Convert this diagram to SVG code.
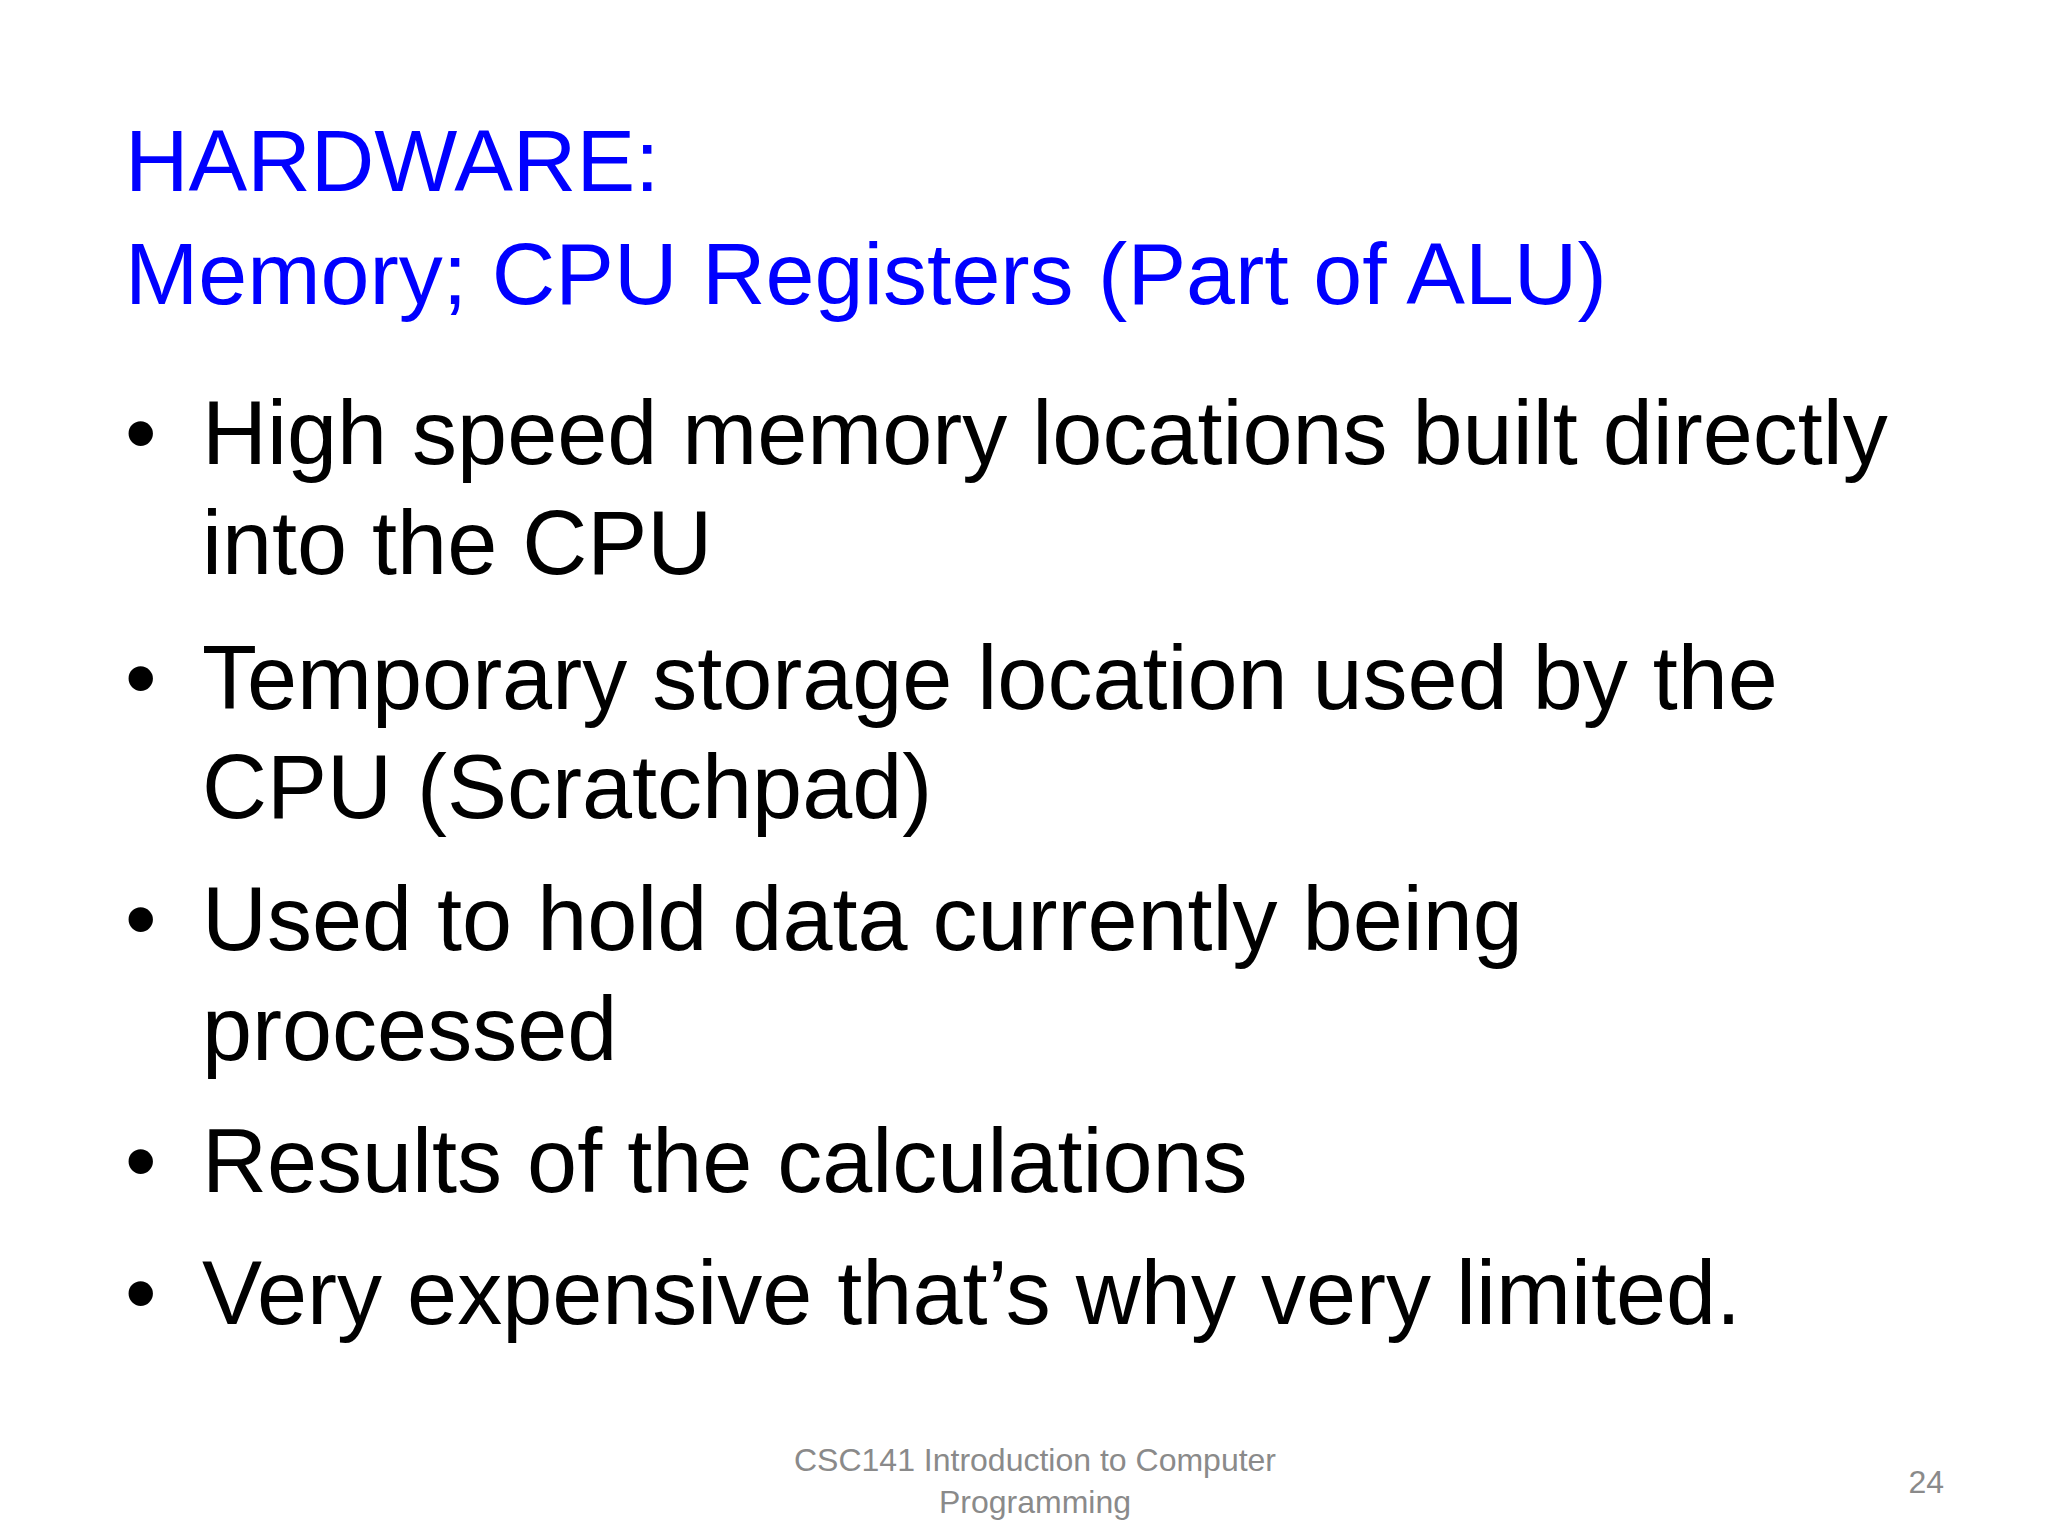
<svg xmlns="http://www.w3.org/2000/svg" width="2048" height="1536" viewBox="0 0 2048 1536">
<style>
.t{font-family:"Liberation Sans",Arial,sans-serif;fill:#0000ff;font-size:88px}
.b{font-family:"Liberation Sans",Arial,sans-serif;fill:#000;font-size:90px}
.f{font-family:"Liberation Sans",Arial,sans-serif;fill:#8a8a8a;font-size:32px}
</style>
<rect width="2048" height="1536" fill="#fff"/>
<g id="title">
<text class="t" x="125" y="191">HARDWARE:</text>
<text class="t" x="125" y="304">Memory; CPU Registers (Part of ALU)</text>
</g>
<g id="bullets">
<text class="b" x="125" y="464">•</text>
<text class="b" x="202" y="464">High speed memory locations built directly</text>
<text class="b" x="202" y="574">into the CPU</text>
<text class="b" x="125" y="709">•</text>
<text class="b" x="202" y="709">Temporary storage location used by the</text>
<text class="b" x="202" y="818">CPU (Scratchpad)</text>
<text class="b" x="125" y="950">•</text>
<text class="b" x="202" y="950">Used to hold data currently being</text>
<text class="b" x="202" y="1060">processed</text>
<text class="b" x="125" y="1192">•</text>
<text class="b" x="202" y="1192">Results of the calculations</text>
<text class="b" x="125" y="1324">•</text>
<text class="b" x="202" y="1324">Very expensive that’s why very limited.</text>
</g>
<g id="footer">
<text class="f" x="1035" y="1471" text-anchor="middle">CSC141 Introduction to Computer</text>
<text class="f" x="1035" y="1513" text-anchor="middle">Programming</text>
<text class="f" x="1944" y="1493" text-anchor="end">24</text>
</g>
</svg>
